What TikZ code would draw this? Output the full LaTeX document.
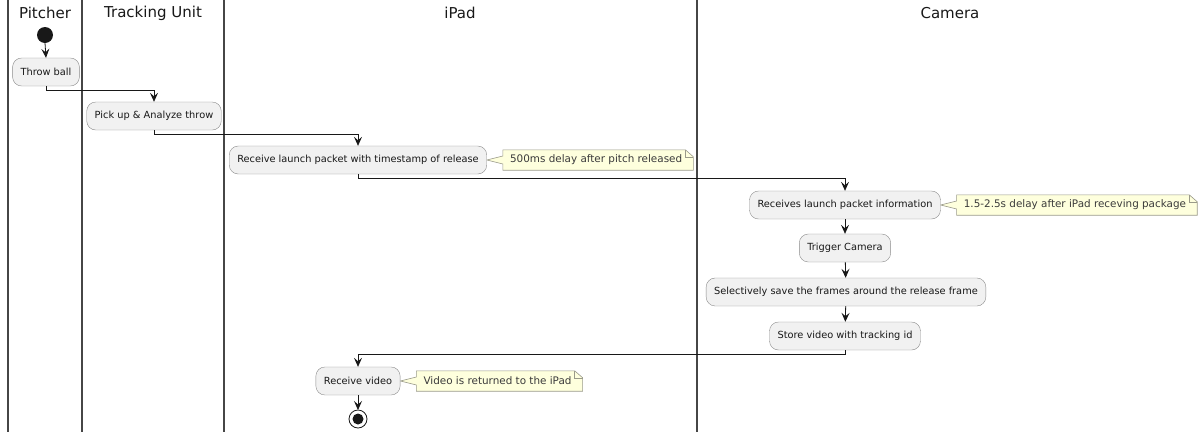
\documentclass[tikz,border=0pt]{standalone}
\usepackage{fontspec}
\setmainfont{DejaVu Sans}
\usetikzlibrary{arrows.meta,backgrounds}
\definecolor{actfill}{HTML}{F1F1F1}
\definecolor{actline}{HTML}{8A8A8A}
\definecolor{notefill}{HTML}{FEFFDD}
\definecolor{noteline}{HTML}{9A9A8A}
\definecolor{ink}{HTML}{181818}
\tikzset{
  act/.style={draw=actline,fill=actfill,rounded corners=9pt,minimum height=28pt,
    inner xsep=8pt,font=\fontsize{9.8}{11}\selectfont,text=ink},
  note/.style={minimum height=20pt,inner xsep=7pt,inner ysep=0pt,
    font=\fontsize{10.4}{12}\selectfont,text=ink!85,
    execute at end node=\hspace{4pt}},
  noteedge/.style={draw=noteline,fill=notefill,line width=0.6pt},
  lane/.style={draw=ink!80,line width=1.3pt},
  head/.style={font=\fontsize{15}{18}\selectfont,text=ink},
  flow/.style={draw=ink,line width=0.8pt,-{Stealth[length=9pt,width=8pt,inset=3.5pt]}}
}
\newcommand{\notebox}[2]{%
  \draw[noteedge] (#1.north west) -- ([xshift=-8pt]#1.north east)
    -- ([yshift=-7pt]#1.north east) -- (#1.south east) -- (#1.south west)
    -- ([yshift=-4pt]#1.west) -- (#2.east) -- ([yshift=4pt]#1.west) -- cycle;
  \draw[noteedge,fill=none] ([xshift=-8pt]#1.north east) -- ++(0pt,-7pt)
    -- ([yshift=-7pt]#1.north east);}
\begin{document}
\begin{tikzpicture}[x=1pt,y=-1pt]
      \useasboundingbox (0,0) rectangle (1200,432);
      % swimlanes
      \draw[lane] (8,0) -- (8,432) (82,0) -- (82,432)
        (224,0) -- (224,432) (697,0) -- (697,432);
      \draw
        (45,13) node[head] (pitcher){Pitcher}
        (153,13) node[head] (tracking){Tracking Unit}
        (460,13) node[head] (ipad){iPad}
        (950,13) node[head] (camera){Camera};
      \fill[ink] (45,35) circle (8pt);
      \coordinate (start) at (45,43);
      \draw
        (46,72) node[act] (throw){Throw ball}
        (154,116) node[act] (pick){Pick up \& Analyze throw}
        (358,160) node[act] (launch){Receive launch packet with timestamp of release}
        (845,205) node[act] (info){Receives launch packet information}
        (845,248) node[act] (trigger){Trigger Camera}
        (846,292) node[act] (frames){Selectively save the frames around the release frame}
        (845,336) node[act] (store){Store video with tracking id}
        (358,381) node[act] (video){Receive video};
      \draw[ink,line width=0.8pt] (358,419) circle (9pt);
      \fill[ink] (358,419) circle (5.5pt);
      \coordinate (stop) at (358,410);
      % notes
      \node[note,anchor=west] (delay1) at ([xshift=16pt]launch.east) {500ms delay after pitch released};
      \node[note,anchor=west] (delay2) at ([xshift=16pt]info.east) {1.5-2.5s delay after iPad receving package};
      \node[note,anchor=west] (returned) at ([xshift=16pt]video.east) {Video is returned to the iPad};
      \begin{scope}[on background layer]
        \notebox{delay1}{launch}
        \notebox{delay2}{info}
        \notebox{returned}{video}
      \end{scope}
      \begin{scope}[flow]
        \draw (start) to (throw.north);
        \draw (throw.south) -- ++(0,4) -| (pick.north);
        \draw (pick.south) -- ++(0,4) -| (launch.north);
        \draw (launch.south) -- ++(0,4) -| (info.north);
        \draw (info) to (trigger);
        \draw (trigger) to (frames);
        \draw (frames) to (store);
        \draw (store.south) -- ++(0,4) -| (video.north);
        \draw (video) to (stop);
      \end{scope}
    \end{tikzpicture}
\end{document}
